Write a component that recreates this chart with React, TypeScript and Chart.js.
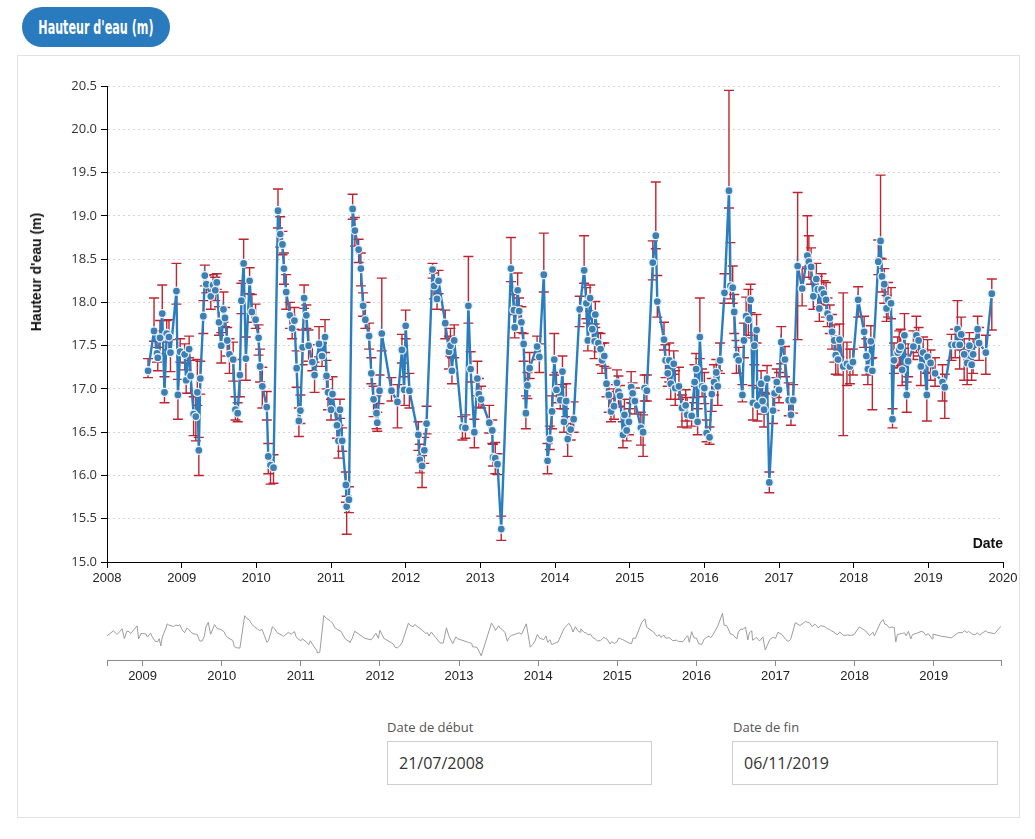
import React, { useEffect, useRef } from "react";
import { Chart, registerables } from "chart.js";

Chart.register(...registerables);

// Measurement dates (decimal years)
const dates: number[] = [
  2008.55, 2008.63, 2008.67, 2008.68, 2008.71, 2008.74, 2008.77, 2008.80, 2008.83, 2008.85,
  2008.93, 2008.95, 2008.98, 2009.04, 2009.06, 2009.10, 2009.12, 2009.16, 2009.19, 2009.21,
  2009.23, 2009.25, 2009.29, 2009.31, 2009.33, 2009.39, 2009.42, 2009.45, 2009.47, 2009.50,
  2009.53, 2009.56, 2009.58, 2009.61, 2009.64, 2009.69, 2009.72, 2009.75, 2009.78, 2009.80,
  2009.83, 2009.86, 2009.91, 2009.94, 2009.99, 2010.03, 2010.05, 2010.08, 2010.14, 2010.16,
  2010.19, 2010.23, 2010.29, 2010.32, 2010.35, 2010.37, 2010.40, 2010.45, 2010.48, 2010.51,
  2010.54, 2010.57, 2010.59, 2010.62, 2010.64, 2010.67, 2010.70, 2010.75, 2010.78, 2010.84,
  2010.88, 2010.92, 2010.94, 2010.96, 2011.00, 2011.02, 2011.08, 2011.10, 2011.12, 2011.15,
  2011.20, 2011.21, 2011.24, 2011.29, 2011.32, 2011.37, 2011.40, 2011.43, 2011.46, 2011.51,
  2011.54, 2011.57, 2011.61, 2011.62, 2011.65, 2011.68, 2011.81, 2011.89, 2011.95, 2011.98,
  2012.00, 2012.05, 2012.17, 2012.19, 2012.22, 2012.25, 2012.28, 2012.36, 2012.38, 2012.42,
  2012.44, 2012.53, 2012.58, 2012.60, 2012.62, 2012.65, 2012.76, 2012.80, 2012.84, 2012.87,
  2012.92, 2012.96, 2012.98, 2013.01, 2013.12, 2013.16, 2013.17, 2013.20, 2013.23, 2013.28,
  2013.41, 2013.45, 2013.46, 2013.50, 2013.52, 2013.55, 2013.58, 2013.61, 2013.63, 2013.66,
  2013.76, 2013.79, 2013.85, 2013.90, 2013.93, 2013.96, 2013.99, 2014.02, 2014.07, 2014.10,
  2014.12, 2014.15, 2014.17, 2014.21, 2014.25, 2014.33, 2014.39, 2014.42, 2014.44, 2014.47,
  2014.50, 2014.53, 2014.54, 2014.58, 2014.61, 2014.63, 2014.66, 2014.69, 2014.72, 2014.75,
  2014.79, 2014.83, 2014.85, 2014.87, 2014.91, 2014.93, 2014.96, 2014.99, 2015.02, 2015.04,
  2015.07, 2015.15, 2015.18, 2015.20, 2015.23, 2015.31, 2015.35, 2015.37, 2015.46, 2015.48,
  2015.51, 2015.53, 2015.55, 2015.59, 2015.61, 2015.66, 2015.70, 2015.75, 2015.77, 2015.83,
  2015.87, 2015.89, 2015.91, 2015.94, 2015.97, 2016.00, 2016.03, 2016.07, 2016.10, 2016.13,
  2016.16, 2016.18, 2016.21, 2016.27, 2016.33, 2016.35, 2016.38, 2016.40, 2016.43, 2016.46,
  2016.51, 2016.53, 2016.56, 2016.59, 2016.62, 2016.65, 2016.67, 2016.70, 2016.71, 2016.76,
  2016.78, 2016.80, 2016.84, 2016.87, 2016.92, 2016.94, 2016.97, 2017.00, 2017.03, 2017.08,
  2017.13, 2017.16, 2017.19, 2017.25, 2017.31, 2017.38, 2017.40, 2017.43, 2017.46, 2017.50,
  2017.52, 2017.54, 2017.57, 2017.60, 2017.63, 2017.65, 2017.68, 2017.71, 2017.74, 2017.76,
  2017.79, 2017.81, 2017.86, 2017.91, 2017.95, 2017.99, 2018.06, 2018.14, 2018.17, 2018.19,
  2018.23, 2018.25, 2018.33, 2018.36, 2018.38, 2018.41, 2018.44, 2018.46, 2018.50, 2018.52,
  2018.54, 2018.59, 2018.61, 2018.63, 2018.65, 2018.68, 2018.71, 2018.73, 2018.80, 2018.84,
  2018.87, 2018.90, 2018.93, 2018.98, 2018.99, 2019.03, 2019.09, 2019.19, 2019.22, 2019.31,
  2019.36, 2019.39, 2019.42, 2019.44, 2019.48, 2019.52, 2019.55, 2019.58, 2019.60, 2019.66,
  2019.68, 2019.77, 2019.85,
];

// Water height (m)
const levels: number[] = [
  17.21, 17.67, 17.41, 17.36, 17.59, 17.87, 16.96, 17.64, 17.60, 17.42,
  18.13, 16.93, 17.43, 17.40, 17.10, 17.46, 17.15, 16.71, 16.68, 16.96,
  16.29, 17.12, 17.84, 18.31, 18.21, 18.07, 18.20, 18.14, 18.23, 17.77,
  17.50, 17.92, 17.82, 17.56, 17.40, 17.34, 16.76, 16.72, 17.16, 18.02,
  18.45, 17.35, 18.25, 17.89, 17.80, 17.59, 17.26, 17.03, 16.79, 16.22,
  16.12, 16.09, 19.06, 18.79, 18.67, 18.39, 18.12, 17.85, 17.70, 17.79,
  17.24, 16.63, 16.75, 17.48, 18.05, 17.85, 17.50, 17.31, 17.16, 17.52,
  17.38, 17.60, 17.15, 16.96, 16.76, 16.94, 16.58, 16.40, 16.76, 16.40,
  15.89, 15.64, 15.72, 19.08, 18.83, 18.61, 18.39, 17.96, 17.80, 17.61,
  17.18, 16.88, 16.72, 16.61, 16.98, 17.64, 16.98, 16.85, 17.45, 16.99,
  17.73, 16.98, 16.47, 16.18, 16.11, 16.29, 16.60, 18.38, 18.19, 18.04,
  18.25, 17.76, 17.43, 17.50, 17.21, 17.56, 16.56, 16.55, 17.96, 17.23,
  16.50, 17.12, 16.94, 16.88, 16.61, 16.52, 16.21, 16.20, 16.13, 15.38,
  18.39, 17.91, 17.71, 18.14, 17.90, 17.77, 17.52, 16.72, 17.04, 17.24,
  17.49, 17.37, 18.32, 16.17, 16.42, 16.74, 17.34, 16.99, 16.87, 17.20,
  16.62, 16.86, 16.42, 16.53, 16.65, 17.92, 18.37, 17.99, 17.56, 18.05,
  17.69, 17.55, 17.86, 17.53, 17.46, 17.33, 17.38, 17.06, 16.93, 16.74,
  16.80, 17.07, 16.97, 16.92, 16.47, 16.70, 16.52, 16.62, 17.02, 16.95,
  16.86, 16.55, 16.50, 17.01, 16.98, 18.46, 18.77, 18.01, 17.57, 17.33,
  17.18, 17.33, 17.06, 17.29, 17.01, 17.03, 16.78, 16.81, 16.70, 16.69,
  17.08, 17.23, 16.62, 17.60, 17.03, 17.01, 16.49, 16.44, 16.94, 17.08,
  17.19, 17.03, 17.33, 18.11, 19.29, 18.19, 18.17, 17.89, 17.38, 17.33,
  16.93, 17.56, 17.84, 17.80, 18.03, 16.84, 17.50, 17.68, 16.81, 17.06,
  16.86, 16.76, 17.12, 15.92, 16.75, 16.95, 17.08, 16.99, 17.54, 17.34,
  16.87, 16.70, 16.87, 18.42, 18.16, 18.54, 18.47, 18.41, 18.07, 18.27,
  18.15, 17.93, 18.15, 18.10, 18.03, 17.87, 17.82, 17.66, 17.56, 17.39,
  17.34, 17.57, 17.26, 17.29, 17.26, 17.31, 18.03, 17.66, 17.38, 17.23,
  17.55, 17.21, 18.47, 18.71, 18.30, 18.21, 17.93, 18.03, 17.99, 16.65,
  17.33, 17.42, 17.45, 17.49, 17.22, 17.62, 16.93, 17.32, 17.49, 17.62,
  17.56, 17.26, 17.42, 16.93, 17.37, 17.30, 17.18, 17.08, 17.02, 17.51,
  17.51, 17.69, 17.51, 17.63, 17.40, 17.30, 17.50, 17.28, 17.40, 17.69,
  17.53, 17.42, 18.10,
];

// Uncertainty below each measurement (m)
const errLow: number[] = [
  0.08, 0.12, 0.10, 0.15, 0.18, 0.20, 0.12, 0.10, 0.15, 0.22,
  0.15, 0.28, 0.12, 0.18, 0.15, 0.10, 0.20, 0.25, 0.28, 0.15,
  0.29, 0.18, 0.20, 0.12, 0.10, 0.15, 0.10, 0.12, 0.08, 0.15,
  0.20, 0.15, 0.10, 0.18, 0.22, 0.25, 0.12, 0.10, 0.25, 0.15,
  0.20, 0.25, 0.15, 0.12, 0.10, 0.20, 0.18, 0.25, 0.15, 0.20,
  0.22, 0.18, 0.20, 0.15, 0.12, 0.18, 0.20, 0.15, 0.12, 0.10,
  0.22, 0.18, 0.15, 0.20, 0.12, 0.15, 0.18, 0.10, 0.20, 0.15,
  0.12, 0.18, 0.15, 0.20, 0.12, 0.18, 0.15, 0.20, 0.10, 0.12,
  0.20, 0.32, 0.15, 0.12, 0.18, 0.15, 0.20, 0.12, 0.10, 0.15,
  0.12, 0.20, 0.18, 0.10, 0.15, 0.20, 0.12, 0.30, 0.15, 0.18,
  0.15, 0.20, 0.18, 0.15, 0.25, 0.15, 0.12, 0.10, 0.15, 0.12,
  0.15, 0.18, 0.20, 0.12, 0.15, 0.20, 0.15, 0.12, 0.20, 0.15,
  0.18, 0.20, 0.15, 0.10, 0.12, 0.15, 0.10, 0.18, 0.12, 0.13,
  0.15, 0.20, 0.12, 0.18, 0.15, 0.12, 0.20, 0.18, 0.15, 0.12,
  0.15, 0.18, 0.20, 0.15, 0.12, 0.20, 0.18, 0.15, 0.10, 0.15,
  0.12, 0.18, 0.20, 0.12, 0.15, 0.20, 0.15, 0.18, 0.12, 0.15,
  0.12, 0.20, 0.15, 0.10, 0.18, 0.15, 0.12, 0.15, 0.20, 0.12,
  0.15, 0.10, 0.18, 0.12, 0.15, 0.20, 0.12, 0.15, 0.18, 0.12,
  0.15, 0.20, 0.28, 0.15, 0.12, 0.20, 0.15, 0.18, 0.12, 0.20,
  0.15, 0.25, 0.18, 0.12, 0.20, 0.15, 0.22, 0.18, 0.15, 0.12,
  0.18, 0.20, 0.15, 0.25, 0.12, 0.18, 0.10, 0.08, 0.20, 0.15,
  0.18, 0.22, 0.15, 0.12, 0.20, 0.15, 0.18, 0.25, 0.20, 0.15,
  0.08, 0.20, 0.25, 0.18, 0.15, 0.20, 0.22, 0.15, 0.18, 0.20,
  0.15, 0.20, 0.18, 0.12, 0.15, 0.20, 0.18, 0.15, 0.25, 0.20,
  0.18, 0.12, 0.15, 0.85, 0.20, 0.15, 0.18, 0.20, 0.15, 0.18,
  0.20, 0.15, 0.18, 0.12, 0.20, 0.15, 0.18, 0.20, 0.25, 0.22,
  0.18, 0.20, 0.80, 0.25, 0.20, 0.15, 0.20, 0.18, 0.22, 0.18,
  0.20, 0.45, 0.15, 0.20, 0.18, 0.22, 0.15, 0.20, 0.18, 0.10,
  0.15, 0.18, 0.20, 0.22, 0.18, 0.15, 0.20, 0.18, 0.15, 0.20,
  0.18, 0.22, 0.15, 0.30, 0.18, 0.20, 0.15, 0.22, 0.36, 0.18,
  0.15, 0.20, 0.28, 0.18, 0.30, 0.25, 0.20, 0.18, 0.22, 0.18,
  0.20, 0.25, 0.42,
];

// Uncertainty above each measurement (m)
const errHigh: number[] = [
  0.14, 0.38, 0.15, 0.12, 0.20, 0.33, 0.18, 0.15, 0.20, 0.15,
  0.32, 0.18, 0.15, 0.12, 0.20, 0.15, 0.18, 0.20, 0.25, 0.38,
  0.15, 0.20, 0.18, 0.12, 0.10, 0.15, 0.12, 0.15, 0.10, 0.18,
  0.15, 0.20, 0.12, 0.15, 0.18, 0.20, 0.15, 0.12, 0.18, 0.20,
  0.28, 0.25, 0.15, 0.20, 0.18, 0.15, 0.20, 0.22, 0.18, 0.15,
  0.12, 0.15, 0.25, 0.20, 0.15, 0.18, 0.20, 0.15, 0.12, 0.15,
  0.20, 0.15, 0.18, 0.20, 0.15, 0.12, 0.18, 0.20, 0.15, 0.20,
  0.15, 0.20, 0.18, 0.15, 0.12, 0.20, 0.15, 0.18, 0.12, 0.15,
  0.15, 0.12, 0.15, 0.17, 0.15, 0.12, 0.18, 0.15, 0.20, 0.15,
  0.18, 0.15, 0.20, 0.12, 0.18, 0.64, 0.15, 0.20, 0.18, 0.15,
  0.18, 0.20, 0.15, 0.18, 0.12, 0.15, 0.20, 0.07, 0.15, 0.18,
  0.12, 0.15, 0.18, 0.20, 0.15, 0.18, 0.12, 0.15, 0.57, 0.20,
  0.15, 0.20, 0.18, 0.15, 0.20, 0.12, 0.15, 0.18, 0.12, 0.15,
  0.36, 0.18, 0.15, 0.20, 0.15, 0.18, 0.12, 0.20, 0.15, 0.18,
  0.12, 0.15, 0.48, 0.20, 0.15, 0.18, 0.30, 0.20, 0.15, 0.18,
  0.15, 0.20, 0.18, 0.15, 0.20, 0.15, 0.40, 0.18, 0.20, 0.15,
  0.18, 0.20, 0.15, 0.12, 0.18, 0.20, 0.15, 0.18, 0.12, 0.15,
  0.20, 0.15, 0.18, 0.12, 0.15, 0.18, 0.20, 0.15, 0.18, 0.12,
  0.15, 0.18, 0.20, 0.15, 0.18, 0.25, 0.62, 0.30, 0.20, 0.18,
  0.15, 0.20, 0.18, 0.15, 0.20, 0.22, 0.15, 0.18, 0.20, 0.15,
  0.20, 0.18, 0.15, 0.45, 0.20, 0.18, 0.15, 0.12, 0.18, 0.20,
  0.15, 0.18, 0.20, 0.22, 1.16, 0.50, 0.25, 0.20, 0.18, 0.15,
  0.12, 0.20, 0.22, 0.35, 0.18, 0.20, 0.15, 0.18, 0.20, 0.15,
  0.18, 0.20, 0.15, 0.12, 0.20, 0.18, 0.15, 0.20, 0.18, 0.15,
  0.20, 0.15, 0.18, 0.85, 0.25, 0.46, 0.30, 0.22, 0.20, 0.18,
  0.15, 0.20, 0.18, 0.15, 0.20, 0.18, 0.15, 0.20, 0.18, 0.22,
  0.20, 0.18, 0.85, 0.25, 0.20, 0.15, 0.15, 0.18, 0.20, 0.15,
  0.18, 0.15, 0.25, 0.76, 0.20, 0.18, 0.15, 0.20, 0.18, 0.12,
  0.20, 0.18, 0.22, 0.20, 0.18, 0.25, 0.15, 0.20, 0.18, 0.22,
  0.15, 0.20, 0.18, 0.25, 0.20, 0.15, 0.18, 0.20, 0.15, 0.12,
  0.18, 0.33, 0.15, 0.20, 0.18, 0.22, 0.15, 0.20, 0.18, 0.15,
  0.18, 0.20, 0.17,
];

const yearTicks: number[] = [2008, 2009, 2010, 2011, 2012, 2013, 2014, 2015, 2016, 2017, 2018, 2019, 2020];
const brushYearTicks: number[] = [2009, 2010, 2011, 2012, 2013, 2014, 2015, 2016, 2017, 2018, 2019];
const heightTicks: number[] = [15.0, 15.5, 16.0, 16.5, 17.0, 17.5, 18.0, 18.5, 19.0, 19.5, 20.0, 20.5];

const startLabel = "21/07/2008";
const endLabel = "06/11/2019";

const LINE_BLUE = "#2a7dbf";
const POINT_BLUE = "#3d7fb3";
const ERR_RED = "#bf2530";

const errorBarPlugin = {
  id: "errorBars",
  beforeDatasetsDraw(chart: any) {
    const { ctx, scales } = chart;
    const x = scales.x;
    const y = scales.y;
    ctx.save();
    ctx.strokeStyle = ERR_RED;
    ctx.lineWidth = 1.4;
    const n = Math.min(dates.length, levels.length, errLow.length, errHigh.length);
    for (let i = 0; i < n; i++) {
      const px = x.getPixelForValue(dates[i]);
      const top = y.getPixelForValue(levels[i] + errHigh[i]);
      const bot = y.getPixelForValue(levels[i] - errLow[i]);
      ctx.beginPath();
      ctx.moveTo(px, top);
      ctx.lineTo(px, bot);
      ctx.moveTo(px - 5, top);
      ctx.lineTo(px + 5, top);
      ctx.moveTo(px - 5, bot);
      ctx.lineTo(px + 5, bot);
      ctx.stroke();
    }
    ctx.restore();
  },
};

function MainChart() {
  const ref = useRef<HTMLCanvasElement | null>(null);
  useEffect(() => {
    if (!ref.current) return;
    const points = dates.map((d, i) => ({ x: d, y: levels[i] }));
    const chart = new Chart(ref.current, {
      type: "line",
      data: {
        datasets: [
          {
            data: points,
            borderColor: LINE_BLUE,
            borderWidth: 2.4,
            pointRadius: 4,
            pointBackgroundColor: POINT_BLUE,
            pointBorderColor: "#e6f3fb",
            pointBorderWidth: 1.3,
            tension: 0,
          },
        ],
      },
      options: {
        animation: false,
        responsive: false,
        layout: { padding: { left: 0, right: 32, top: 30, bottom: 24 } },
        plugins: { legend: { display: false }, tooltip: { enabled: false } },
        scales: {
          x: {
            type: "linear",
            min: yearTicks[0],
            max: yearTicks[yearTicks.length - 1],
            afterBuildTicks: (s: any) => {
              s.ticks = yearTicks.map((v) => ({ value: v }));
            },
            afterFit: (s: any) => {
              s.height = 30;
            },
            ticks: {
              callback: (v: any) => String(v),
              color: "#222",
              padding: 3,
              maxRotation: 0,
              autoSkip: false,
              font: { family: "'Liberation Sans', Arial, sans-serif", size: 13 },
            },
            grid: { drawOnChartArea: false, drawTicks: true, tickLength: 6, tickColor: "#000", tickWidth: 1 },
            border: { display: true, color: "#000", width: 1 },
          },
          y: {
            type: "linear",
            min: heightTicks[0],
            max: heightTicks[heightTicks.length - 1],
            afterBuildTicks: (s: any) => {
              s.ticks = heightTicks.map((v) => ({ value: v }));
            },
            afterFit: (s: any) => {
              s.width = 107;
            },
            ticks: {
              callback: (v: any) => Number(v).toFixed(1),
              color: "#333",
              padding: 4,
              autoSkip: false,
              font: { family: "'Open Sans', sans-serif", size: 13 },
            },
            grid: {
              color: "#d4d4d4",
              lineWidth: 1,
              drawTicks: true,
              tickLength: 6,
              tickColor: "#000",
              tickWidth: 1,
              tickBorderDash: [],
            },
            border: { display: true, color: "#000", width: 1, dash: [2, 3] },
          },
        },
      },
      plugins: [errorBarPlugin],
    } as any);
    return () => chart.destroy();
  }, []);
  return <canvas ref={ref} width={1035} height={560} style={{ position: "absolute", left: 0, top: 56, width: 1035, height: 560 }} />;
}

function BrushChart() {
  const ref = useRef<HTMLCanvasElement | null>(null);
  useEffect(() => {
    if (!ref.current) return;
    const points = dates.map((d, i) => ({ x: d, y: levels[i] }));
    const first = dates[0];
    const last = dates[dates.length - 1];
    const chart = new Chart(ref.current, {
      type: "line",
      data: {
        datasets: [
          {
            data: points,
            borderColor: "#9c9c9c",
            borderWidth: 1,
            pointRadius: 0,
            tension: 0,
          },
        ],
      },
      options: {
        animation: false,
        responsive: false,
        layout: { padding: { left: 107, right: 34, top: 10, bottom: 6 } },
        plugins: { legend: { display: false }, tooltip: { enabled: false } },
        scales: {
          x: {
            type: "linear",
            min: first,
            max: last,
            afterBuildTicks: (s: any) => {
              s.ticks = [first, ...brushYearTicks, last].map((v) => ({ value: v }));
            },
            afterFit: (s: any) => {
              s.height = 24;
            },
            ticks: {
              callback: (v: any) => (Number.isInteger(v) ? String(v) : ""),
              color: "#222",
              padding: 3,
              maxRotation: 0,
              autoSkip: false,
              font: { family: "'Liberation Sans', Arial, sans-serif", size: 13 },
            },
            grid: { drawOnChartArea: false, drawTicks: true, tickLength: 6, tickColor: "#8a8a8a", tickWidth: 1 },
            border: { display: true, color: "#8a8a8a", width: 1 },
          },
          y: {
            type: "linear",
            display: false,
            min: heightTicks[0],
            max: heightTicks[heightTicks.length - 1],
          },
        },
      },
    } as any);
    return () => chart.destroy();
  }, []);
  return <canvas ref={ref} width={1035} height={100} style={{ position: "absolute", left: 0, top: 590, width: 1035, height: 100 }} />;
}

const inputLabel: React.CSSProperties = {
  position: "absolute",
  fontFamily: "'Open Sans', sans-serif",
  fontSize: 13,
  color: "#555",
  lineHeight: "16px",
};

const inputBox: React.CSSProperties = {
  position: "absolute",
  boxSizing: "border-box",
  height: 44,
  border: "1px solid #cfcfcf",
  background: "#fff",
  fontFamily: "'Open Sans', sans-serif",
  fontSize: 16,
  color: "#333",
  lineHeight: "42px",
  paddingLeft: 11,
};

export default function App() {
  return (
    <div
      style={{
        position: "fixed",
        left: 0,
        top: 0,
        width: 1035,
        height: 839,
        background: "#fff",
        overflow: "hidden",
      }}
    >
      <div
        style={{
          position: "absolute",
          left: 22,
          top: 7,
          width: 148,
          height: 40,
          borderRadius: 20,
          background: "#2a7bbd",
          display: "flex",
          alignItems: "center",
          justifyContent: "center",
          overflow: "hidden",
        }}
      >
        <span
          style={{
            display: "inline-block",
            color: "#fff",
            fontFamily: "'DejaVu Sans Condensed', 'DejaVu Sans', sans-serif",
            fontStretch: "condensed",
            fontWeight: "bold",
            fontSize: 20,
            whiteSpace: "nowrap",
            transform: "scaleX(0.62)",
            letterSpacing: 0,
          }}
        >
          Hauteur d'eau (m)
        </span>
      </div>

      <div
        style={{
          position: "absolute",
          left: 17,
          top: 55,
          width: 1003,
          height: 763,
          boxSizing: "border-box",
          border: "1px solid #e2e2e2",
        }}
      />

      <MainChart />

      <div
        style={{
          position: "absolute",
          left: 36,
          top: 272,
          transform: "translate(-50%, -50%) rotate(-90deg)",
          fontFamily: "'Liberation Sans', Arial, sans-serif",
          fontWeight: "bold",
          fontSize: 14,
          color: "#111",
          whiteSpace: "nowrap",
        }}
      >
        Hauteur d'eau (m)
      </div>

      <div
        style={{
          position: "absolute",
          right: 1035 - 1003,
          top: 535,
          fontFamily: "'Liberation Sans', Arial, sans-serif",
          fontWeight: "bold",
          fontSize: 14,
          color: "#111",
          lineHeight: "17px",
        }}
      >
        Date
      </div>

      <BrushChart />

      <div style={{ ...inputLabel, left: 387, top: 719 }}>Date de début</div>
      <div style={{ ...inputBox, left: 387, top: 741, width: 265 }}>{startLabel}</div>

      <div style={{ ...inputLabel, left: 733, top: 719 }}>Date de fin</div>
      <div style={{ ...inputBox, left: 732, top: 741, width: 266 }}>{endLabel}</div>
    </div>
  );
}
